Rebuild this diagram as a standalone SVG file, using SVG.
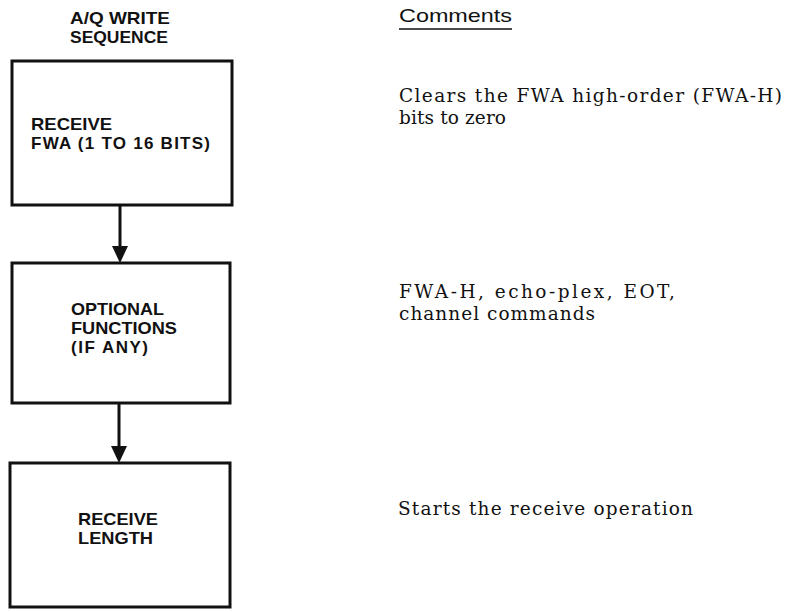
<svg xmlns="http://www.w3.org/2000/svg" width="786" height="612" viewBox="0 0 786 612">
<style>
.box{fill:#fff;stroke:#111;stroke-width:3}
.lbl{font-family:"Liberation Sans",Arial,sans-serif;font-weight:bold;font-size:17px;fill:#111}
.cmt{font-family:"DejaVu Serif","Liberation Serif",serif;font-size:18.5px;fill:#111}
.hdr{font-family:"Liberation Sans",Arial,sans-serif;font-size:19px;fill:#111}
.conn{stroke:#111;stroke-width:3;fill:none}
</style>
<rect width="786" height="612" fill="#fff"/>
<g id="title">
<text class="lbl" x="70" y="24" textLength="100" lengthAdjust="spacingAndGlyphs">A/Q WRITE</text>
<text class="lbl" x="70" y="43" textLength="98" lengthAdjust="spacingAndGlyphs">SEQUENCE</text>
</g>
<g id="node1">
<rect class="box" x="12" y="61" width="220" height="144"/>
<text class="lbl" x="31" y="130" textLength="81" lengthAdjust="spacingAndGlyphs">RECEIVE</text>
<text class="lbl" x="31" y="149" textLength="179" lengthAdjust="spacing">FWA (1 TO 16 BITS)</text>
</g>
<g id="node2">
<rect class="box" x="12" y="263" width="218" height="140"/>
<text class="lbl" x="71" y="315" textLength="93" lengthAdjust="spacingAndGlyphs">OPTIONAL</text>
<text class="lbl" x="71" y="334" textLength="106" lengthAdjust="spacingAndGlyphs">FUNCTIONS</text>
<text class="lbl" x="71" y="353" textLength="77" lengthAdjust="spacing">(IF ANY)</text>
</g>
<g id="node3">
<rect class="box" x="10" y="463" width="220" height="144"/>
<text class="lbl" x="78" y="525" textLength="80" lengthAdjust="spacingAndGlyphs">RECEIVE</text>
<text class="lbl" x="78" y="544" textLength="75" lengthAdjust="spacingAndGlyphs">LENGTH</text>
</g>
<g id="connectors">
<line class="conn" x1="120" y1="205" x2="120" y2="248"/>
<path d="M112,246 L128,246 L120,263 Z" fill="#111"/>
<line class="conn" x1="119" y1="403" x2="119" y2="448"/>
<path d="M111,446 L127,446 L119,463 Z" fill="#111"/>
</g>
<g id="comments">
<text class="hdr" x="399" y="22" textLength="113" lengthAdjust="spacingAndGlyphs">Comments</text>
<line x1="399" y1="29" x2="512" y2="29" stroke="#111" stroke-width="1.5"/>
<text class="cmt" x="399" y="102" textLength="383" lengthAdjust="spacing">Clears the FWA high-order (FWA-H)</text>
<text class="cmt" x="399" y="124" textLength="107" lengthAdjust="spacing">bits to zero</text>
<text class="cmt" x="399" y="298" textLength="276" lengthAdjust="spacing">FWA-H, echo-plex, EOT,</text>
<text class="cmt" x="399" y="320" textLength="196" lengthAdjust="spacing">channel commands</text>
<text class="cmt" x="398" y="515" textLength="295" lengthAdjust="spacing">Starts the receive operation</text>
</g>
</svg>
